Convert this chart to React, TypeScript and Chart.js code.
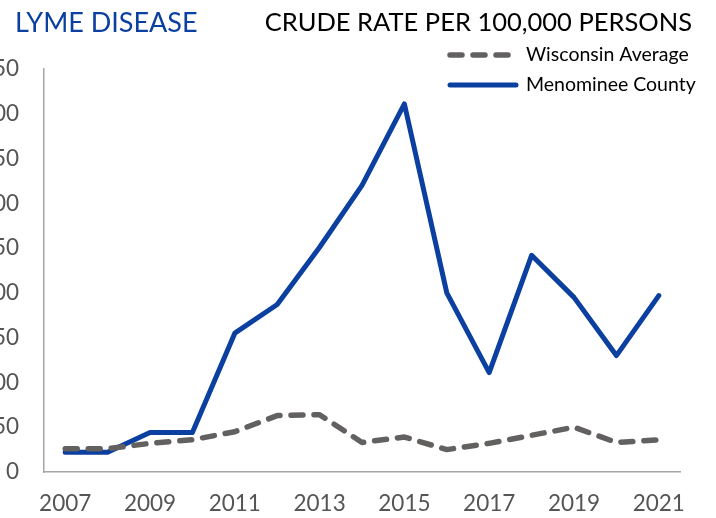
import React, { useEffect, useRef } from "react";
import { Chart, registerables } from "chart.js";

Chart.register(...registerables);

const years = ["2007", "2008", "2009", "2010", "2011", "2012", "2013", "2014", "2015", "2016", "2017", "2018", "2019", "2020", "2021"];
const menominee = [22, 22, 44, 44, 155, 187, 251, 320, 411, 200, 111, 242, 195, 130, 197];
const wisconsin = [26, 26, 32, 36, 45, 63, 64, 33, 39, 25, 32, 41, 50, 33, 36];
const yTicks = [0, 50, 100, 150, 200, 250, 300, 350, 400, 450];
const titleLeft = "LYME DISEASE";
const titleRight = "CRUDE RATE PER 100,000 PERSONS";

const SHIFT = 30;
const FONT = "Lato, 'Open Sans', sans-serif";

const overlayPlugin = {
  id: "overlay",
  afterDraw(chart: any) {
    const ctx = chart.ctx;
    ctx.save();
    ctx.textBaseline = "middle";
    // titles
    ctx.fillStyle = "#0b3fa0";
    ctx.font = `27px ${FONT}`;
    ctx.textAlign = "left";
    ctx.fillText(titleLeft, 15 + SHIFT, 23);
    ctx.fillStyle = "#000000";
    ctx.font = `25.5px ${FONT}`;
    ctx.textAlign = "right";
    ctx.fillText(titleRight, 692 + SHIFT, 23);
    // legend
    const items = chart.data.datasets.map((ds: any, i: number) => ({
      label: ds.label,
      color: ds.borderColor,
      dash: ds.borderDash || [],
      width: ds.borderWidth,
      y: i === 0 ? 55 : 85,
    }));
    for (const it of items) {
      ctx.strokeStyle = it.color;
      ctx.lineWidth = it.width;
      ctx.lineCap = "round";
      ctx.setLineDash(it.dash);
      ctx.beginPath();
      ctx.moveTo(450 + SHIFT, it.y);
      ctx.lineTo(516 + SHIFT, it.y);
      ctx.stroke();
      ctx.setLineDash([]);
      ctx.fillStyle = "#000000";
      ctx.font = `19.5px ${FONT}`;
      ctx.textAlign = "left";
      ctx.fillText(it.label, 526 + SHIFT, it.y);
    }
    ctx.restore();
  },
};

export default function App() {
  const ref = useRef<HTMLCanvasElement | null>(null);
  useEffect(() => {
    if (!ref.current) return;
    const chart = new Chart(ref.current, {
      type: "line",
      data: {
        labels: years,
        datasets: [
          {
            label: "Wisconsin Average",
            data: wisconsin,
            borderColor: "#636060",
            borderWidth: 5.5,
            borderDash: [12, 11],
            borderCapStyle: "round",
            borderJoinStyle: "round",
            pointRadius: 0,
            tension: 0,
            fill: false,
          },
          {
            label: "Menominee County",
            data: menominee,
            borderColor: "#0b3fa0",
            borderWidth: 5,
            borderCapStyle: "round",
            borderJoinStyle: "round",
            pointRadius: 0,
            tension: 0,
            fill: false,
          },
        ],
      },
      options: {
        animation: false,
        responsive: true,
        maintainAspectRatio: false,
        layout: { padding: { top: 69, right: 36, left: 0, bottom: 0 } },
        plugins: {
          legend: { display: false },
          title: { display: false },
          tooltip: { enabled: false },
        },
        scales: {
          x: {
            offset: true,
            grid: { display: false, drawTicks: false },
            border: { display: true, color: "#a6a6a6", width: 1.5 },
            ticks: {
              color: "#555555",
              font: { family: FONT, size: 22.5 },
              padding: 18,
              maxRotation: 0,
              autoSkip: false,
              callback: (_v: any, i: number) => (i % 2 === 0 ? years[i] : ""),
            },
            afterFit: (s: any) => {
              s.height = 46;
            },
          },
          y: {
            min: 0,
            max: 450,
            afterBuildTicks: (s: any) => {
              s.ticks = yTicks.map((v) => ({ value: v }));
            },
            grid: { display: false, drawTicks: false },
            border: { display: true, color: "#a6a6a6", width: 1.5 },
            ticks: {
              color: "#555555",
              font: { family: FONT, size: 22.5 },
              padding: 25,
            },
            afterFit: (s: any) => {
              s.width = 44 + SHIFT;
            },
          },
        },
      },
      plugins: [overlayPlugin],
    });
    return () => chart.destroy();
  }, []);
  return (
    <div style={{ position: "fixed", left: -SHIFT, top: 0, width: 716 + SHIFT, height: 518 }}>
      <canvas ref={ref} />
    </div>
  );
}
